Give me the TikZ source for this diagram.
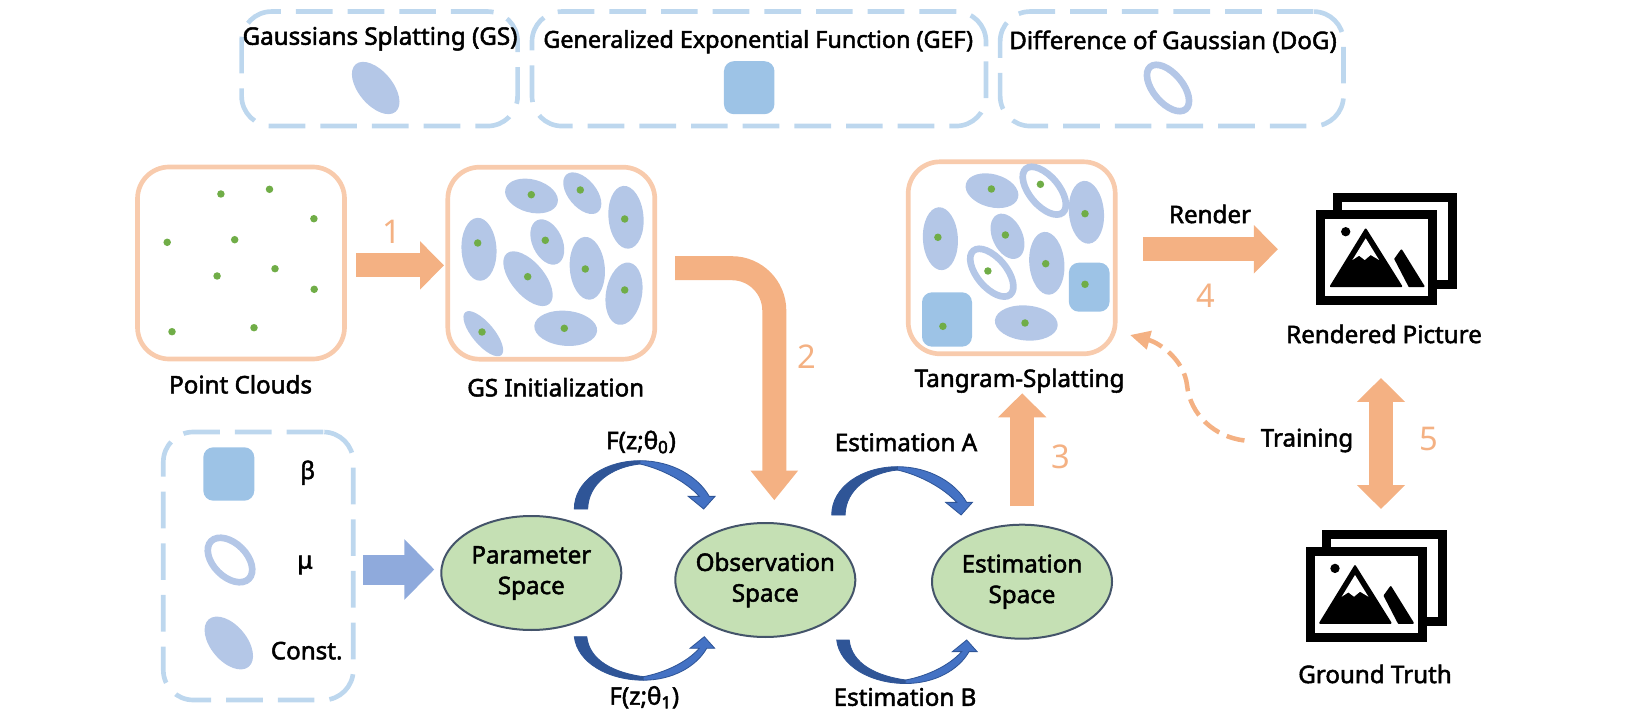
\documentclass[tikz,border=0pt]{standalone}
\usepackage{fontspec}
\setmainfont{Noto Sans}
\usepackage{tikz}
\usetikzlibrary{arrows.meta}
\usetikzlibrary{shapes.geometric}
\definecolor{peach}{HTML}{F8CBAD}
\definecolor{orangearrow}{HTML}{F4B183}
\definecolor{dashblue}{HTML}{BDD7EE}
\definecolor{gefblue}{HTML}{9DC3E6}
\definecolor{gsblue}{HTML}{B4C7E7}
\definecolor{dotgreen}{HTML}{70AD47}
\definecolor{spacegreen}{HTML}{C5E0B4}
\definecolor{spaceline}{HTML}{44546A}
\definecolor{curvedark}{HTML}{2F5597}
\definecolor{curvelight}{HTML}{4472C4}
\definecolor{inputblue}{HTML}{8FAADC}
\begin{document}
\begin{tikzpicture}
[
x=0.6pt, y=-0.6pt,
every node/.style={font=\fontsize{14.5}{18.4}\selectfont, align=center, inner sep=0pt, execute at begin node={\special{pdf:code 2 Tr 0.3 w}}},
legendbox/.style={rectangle, rounded corners=18pt, draw=dashblue, line width=2.8pt, dash pattern=on 22pt off 9pt},
splatbox/.style={rectangle, rounded corners=19pt, draw=peach, line width=2.8pt, minimum width=124.2pt, minimum height=115.2pt},
gs/.style n args={3}{ellipse, fill=gsblue, minimum width=#1*0.6pt, minimum height=#2*0.6pt, rotate=#3},
dog/.style n args={3}{ellipse, draw=gsblue, line width=4pt, minimum width=#1*0.6pt-4pt, minimum height=#2*0.6pt-4pt, rotate=#3},
gef/.style n args={2}{rectangle, rounded corners=6pt, fill=gefblue, minimum width=#1*0.6pt, minimum height=#2*0.6pt},
pt/.style={circle, fill=dotgreen, minimum size=4.5pt},
space/.style={ellipse, fill=spacegreen, draw=spaceline, line width=1.2pt, inner xsep=-5pt, minimum width=108pt, minimum height=68.4pt},
bigarrow/.style={draw=orangearrow, line width=14.4pt, -{Triangle[length=14.4pt,width=28.2pt]}},
num/.style={text=orangearrow, font=\fontsize{19.6}{22}\selectfont, execute at begin node={\special{pdf:code 0 Tr}}},
pics/curveup/.style={code={
\filldraw [curvedark, line width=0.5pt] (0,0) .. controls (0,-28) and (30,-48.3) .. (65.7,-48.3) -- (65.7,-45) .. controls (38,-42) and (14,-26) .. (13.4,0) -- cycle;
\filldraw [curvelight, draw=curvedark, line width=0.5pt] (65.7,-48.3) .. controls (98,-48.3) and (124,-32) .. (135,-12.6) -- (140.7,-12.6) -- (129.4,0) -- (114,-12.6) -- (125,-12.6) .. controls (112,-27) and (88,-40) .. (65.7,-45) -- cycle;
}},
pics/curvedown/.style={code={
\filldraw [curvedark, line width=0.5pt] (0,0) .. controls (3,26) and (34,43.5) .. (69,43.5) -- (69,40) .. controls (40,36) and (15,24) .. (12.5,0) -- cycle;
\filldraw [curvelight, draw=curvedark, line width=0.5pt] (69,43.5) .. controls (98,43.5) and (122,30) .. (132.4,11.6) -- (140.4,11.6) -- (130,0) -- (115.7,11.6) -- (125,11.6) .. controls (112,26) and (90,36) .. (69,40) -- cycle;
}},
pics/photos/.style={code={
\draw [line width=5.4pt, fill=white] (21,-12.2) rectangle (136.5,74.5);
\draw [line width=5.4pt, fill=white] (4.5,4.5) rectangle (116.5,91);
\filldraw [line width=1.2pt, line join=round] (49.3,19.5) -- (14.5,76.2) -- (84.8,76.2) -- cycle;
\fill [white] (49.3,28.3) -- (36,50) -- (42.7,45.7) -- (48.3,50) -- (54.3,45) -- (62.7,50) -- cycle;
\filldraw [line width=1.2pt, line join=round] (85,40.5) -- (78.9,49) -- (93,76.2) -- (107.1,76.2) -- cycle;
\fill (29.3,21.7) circle (2.8pt);
}},
]
\useasboundingbox (0,0) rectangle (1633,728);

% legend on top
\node (gsbox) [legendbox, minimum width=165.6pt, minimum height=68.7pt] at (379.6,68.8) {};
\node (gefbox) [legendbox, minimum width=272.4pt, minimum height=68.7pt] at (759,68.8) {};
\node (dogbox) [legendbox, minimum width=206pt, minimum height=68.7pt] at (1171.8,68.8) {};
\node (gstext) at (380,38.5) {Gaussians Splatting (GS)};
\node (geftext) [font=\fontsize{14}{18}\selectfont] at (758.2,41.7) {Generalized Exponential Function (GEF)};
\node (dogtext) at (1173,41.7) {Difference of Gaussian (DoG)};
\node (gsicon) [gs={62}{34}{-50}] at (375.7,88) {};
\node (deficon) [gef={50.5}{53}] at (749.2,87.7) {};
\node (dogicon) [dog={62}{36}{-50}] at (1168,88) {};

% splatting boxes
\node (pcloud) [splatbox] at (241,263) {};
\node (gsinit) [splatbox] at (551.3,263.2) {};
\node (tangram) [splatbox] at (1011.7,257.8) {};
\node (pcloudtext) at (240.6,384.3) {Point Clouds};
\node (gsinittext) at (555.7,387.3) {GS Initialization};
\node (tangramtext) at (1019.6,380.7) {Tangram-Splatting};

\foreach \x/\y [count=\i] in {220.9/194, 269.5/189.3, 313.9/218.7, 167.2/242.3, 234.7/239.7, 217.1/276, 275/268.7, 314.2/289.3, 172/331.7, 254/327.7}
{
\node (pc\i) [pt] at (\x,\y) {};
}
\foreach \x/\y/\a/\b/\r [count=\i] in {531.5/196/54/33/-15, 582.3/193.2/49/28/-50, 626/217.3/63/35/-85, 479/249.3/63/35/-87, 547.3/242/48/30/-65, 528/278.7/66/33/-50, 587.3/268.3/63/35/-85, 624/293.7/63/36/-100, 483.3/333.7/56/22/-50, 565.7/328.3/63/35/-5}
{
\node (gsa\i) [gs={\a}{\b}{\r}] at (\x,\y) {};
}
\foreach \x/\y [count=\i] in {531.3/194.7, 580.3/190, 624.7/219, 477.7/243, 545.3/240.3, 527.7/276.7, 585.3/269, 624.7/290, 482/332, 564.3/328.3}
{
\node (gspt\i) [pt] at (\x,\y) {};
}

\foreach \x/\y/\a/\b/\r [count=\i] in {992/190.7/54/33/-15, 1086.4/212.3/63/35/-85, 940.4/238.7/63/35/-87, 1007.5/236.3/48/30/-65, 1046.8/263.3/63/35/-85, 1026.3/323/63/35/-5}
{
\node (tga\i) [gs={\a}{\b}{\r}] at (\x,\y) {};
}
\node (tgdoga) [dog={64}{36}{-50}] at (1044.3,190.7) {};
\node (tgdogb) [dog={64}{36}{-50}] at (991.8,272.7) {};
\node (tgefa) [gef={40.7}{49}] at (1089.2,287.2) {};
\node (tgefb) [gef={50}{54.4}] at (947,319.5) {};
\foreach \x/\y [count=\i] in {991.4/189, 1040.4/184.3, 1085/213.7, 937.9/237.3, 1005.4/235, 987.9/271, 1045.7/263.7, 1085/284.3, 942.9/326.3, 1025/323}
{
\node (tgpt\i) [pt] at (\x,\y) {};
}

% spaces
\node (param) [space] at (531.3,573) {Parameter\\Space};
\node (observ) [space] at (765.3,580) {Observation\\Space};
\node (estim) [space] at (1022,581.7) {Estimation\\Space};

% input box
\node (inputbox) [legendbox, minimum width=114pt, minimum height=160.8pt] at (258.3,566) {};
\node (betaicon) [gef={51}{53.4}] at (228.8,474) {};
\node (muicon) [dog={60}{40}{-45}] at (230,560) {};
\node (consticon) [gs={62}{36}{-50}] at (228.8,643) {};
\node (betatext) at (307.7,472.7) {β};
\node (mutext) at (305,565) {μ};
\node (consttext) at (306.7,650.7) {Const.};

% block arrows
\coordinate (a1) at (356,265.4);
\coordinate (b1) at (444,265.4);
\coordinate (a2) at (675,268.2);
\coordinate (b2) at (774.3,500.3);
\coordinate (a3) at (1022.2,506);
\coordinate (b3) at (1022.2,393.3);
\coordinate (a4) at (1142.9,249.3);
\coordinate (b4) at (1277.9,249.3);
\coordinate (a5) at (1381,378);
\coordinate (b5) at (1381,509);
\coordinate (a6) at (363.3,569.5);
\coordinate (b6) at (434.3,569.5);
\draw [bigarrow] (a1) -- (b1);
\draw [bigarrow, rounded corners=25.5pt, -{Triangle[length=17.8pt,width=27.4pt]}] (a2) -| (b2);
\draw [bigarrow] (a3) -- (b3);
\draw [bigarrow] (a4) -- (b4);
\draw [bigarrow, {Triangle[length=14.4pt,width=28.2pt]}-{Triangle[length=14.4pt,width=28.2pt]}] (a5) -- (b5);
\draw [draw=inputblue, line width=18pt, -{Triangle[length=18pt,width=35.4pt]}] (a6) -- (b6);
\node (n1) [num] at (392,231.7) {1};
\node (n2) [num] at (807,356.7) {2};
\node (n3) [num] at (1061,456.7) {3};
\node (n4) [num] at (1205.7,296) {4};
\node (n5) [num] at (1429,439.5) {5};
\node (rendertext) at (1210,214) {Render};

% curved arrows
\pic at (574.3,509) {curveup};
\pic at (831.7,515) {curveup};
\pic at (574.3,636.7) {curvedown};
\pic at (836.7,640) {curvedown};
\node (fa) at (641,442) {F(z;θ$_{\mathbf{0}}$)};
\node (fb) at (644.3,697.3) {F(z;θ$_{\mathbf{1}}$)};
\node (esta) at (906,442.3) {Estimation A};
\node (estb) at (905,697) {Estimation B};

% pictures
\pic at (1316.4,210) {photos};
\pic at (1305.7,546.7) {photos};
\node (rendered) at (1384,334) {Rendered Picture};
\node (truth) at (1375,674) {Ground Truth};

% training
\node (training) at (1307,440.5) {Training};
\coordinate (tgback) at (1130,335);
\draw [draw=orangearrow, line width=2.7pt, dash pattern=on 11pt off 5pt, -{Triangle[length=12pt,width=11pt]}] (training.west) ++(-16,0) .. controls (1215,437) and (1190,415) .. (1187,385) .. controls (1184,360) and (1160,343) .. (tgback);
\end{tikzpicture}
\end{document}
